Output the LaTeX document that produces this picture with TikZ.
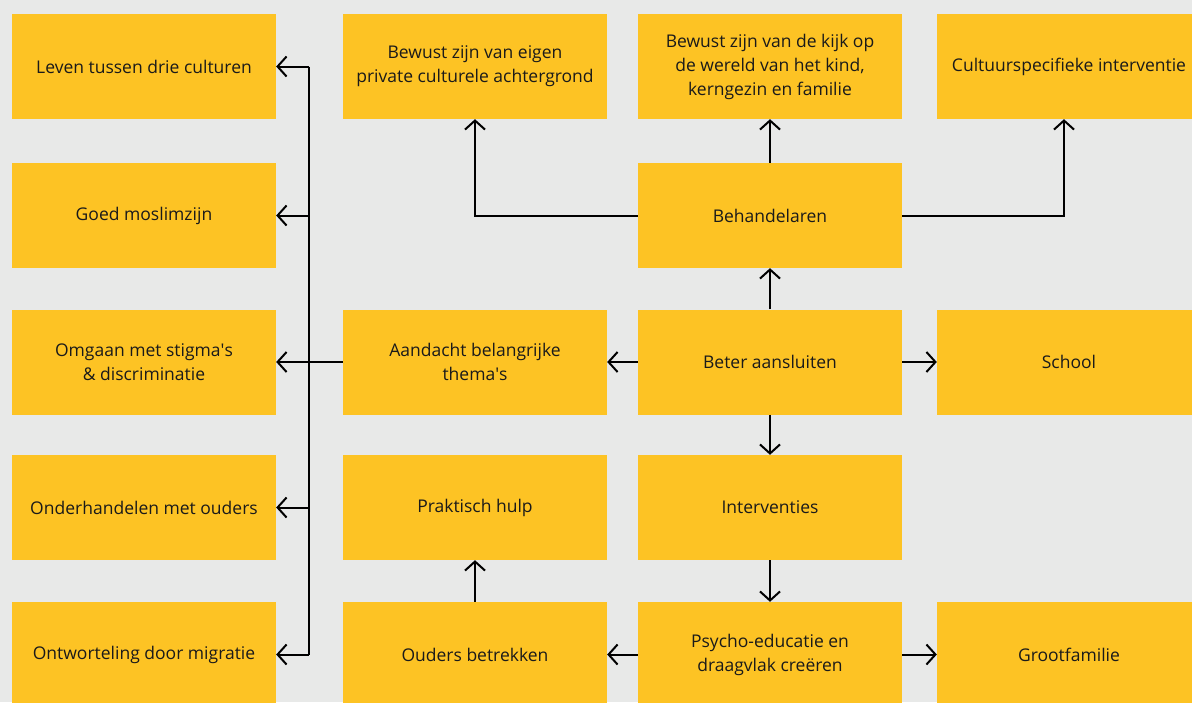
\documentclass[tikz,border=0pt]{standalone}
\usepackage{fontspec}
\setmainfont{Open Sans}
\usetikzlibrary{arrows.meta, calc, positioning}

\definecolor{bg}{HTML}{E8E9E8}
\definecolor{geel}{HTML}{FDC324}
\definecolor{tekst}{HTML}{1A1A1A}

\tikzset{
  block/.style={fill=geel, text=tekst, minimum width=264pt, minimum height=105pt,
    inner sep=0pt, align=center, font=\fontsize{17.5}{24}\selectfont},
  link/.style={line width=2pt, ->}
}

\begin{document}
\begin{tikzpicture}[x=1pt, y=-1pt, >={Straight Barb[length=9pt, width=20pt]}]
  \fill[bg] (0,0) rectangle (1192,702);
  \useasboundingbox (0,0) rectangle (1192,702);
  \clip (0,0) rectangle (1192,702);

  % left column
  \node[block] at (144, 66.5) (leven) {Leven tussen drie culturen};
  \node[block] at (144, 215.5) (moslim) {Goed moslimzijn};
  \node[block] at (144, 362) (stigma) {Omgaan met stigma\textquotesingle s\\\& discriminatie};
  \node[block] at (144, 507.5) (onderhandelen) {Onderhandelen met ouders};
  \node[block] at (144, 654.5) (ontworteling) {Ontworteling door migratie};

  % top row
  \node[block] at (475, 66.5) (eigen) {Bewust zijn van eigen\\private culturele achtergrond};
  \node[block] at (770, 66.5) (kijk) {Bewust zijn van de kijk op\\de wereld van het kind,\\kerngezin en familie};
  \node[block] at (1069, 66.5) (cultuur) {Cultuurspecifieke interventie};

  % middle
  \node[block] at (770, 215.5) (behandelaren) {Behandelaren};
  \node[block] at (475, 362) (aandacht) {Aandacht belangrijke\\thema\textquotesingle s};
  \node[block] at (770, 362) (beter) {Beter aansluiten};
  \node[block] at (1069, 362) (school) {School};
  \node[block] at (475, 507.5) (praktisch) {Praktisch hulp};
  \node[block] at (770, 507.5) (interventies) {Interventies};
  \node[block] at (475, 654.5) (ouders) {Ouders betrekken};
  \node[block] at (770, 654.5) (psycho) {Psycho-educatie en\\draagvlak creëren};
  \node[block] at (1069, 654.5) (grootfamilie) {Grootfamilie};

  % themes bus
  \coordinate (bus) at (309, 362);
  \draw[line width=2pt] (bus |- leven) -- (bus |- ontworteling);
  \draw[link] (aandacht.west) -- (stigma.east);
  \foreach \n in {leven, moslim, onderhandelen, ontworteling}
    \draw[link] (bus |- \n) -- (\n.east);

  \draw[link] (behandelaren.west) -| (eigen.south);
  \draw[link] (behandelaren) -- (kijk);
  \draw[link] (behandelaren.east) -| ([xshift=-5pt]cultuur.south);

  \draw[link] (beter) -- (behandelaren);
  \draw[link] (beter) -- (aandacht);
  \draw[link] (beter) -- (school);
  \draw[link] (beter) -- (interventies);
  \draw[link] (interventies) -- (psycho);
  \draw[link] (psycho) -- (ouders);
  \draw[link] (psycho) -- (grootfamilie);
  \draw[link] (ouders) -- (praktisch);
\end{tikzpicture}
\end{document}
